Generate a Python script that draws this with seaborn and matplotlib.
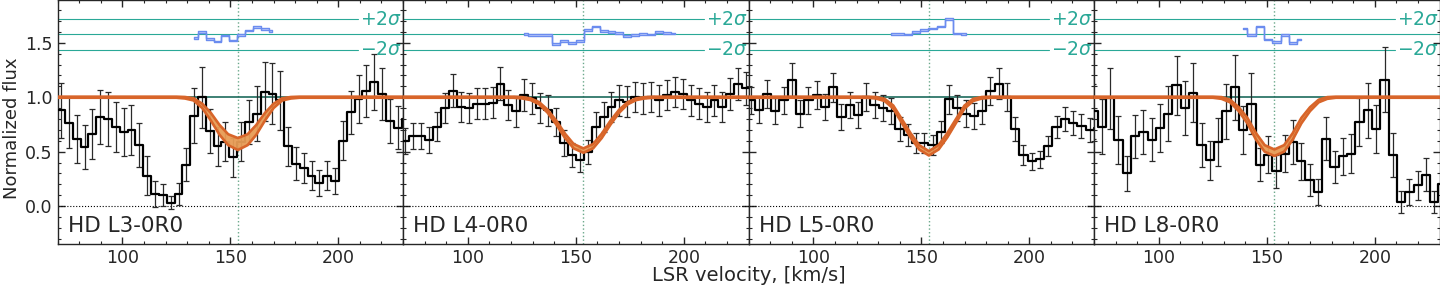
import matplotlib
matplotlib.use('Agg')
import matplotlib.pyplot as plt
import matplotlib.transforms as mtransforms
from matplotlib.ticker import MultipleLocator
import seaborn as sns
import pandas as pd

# panel titles
names = ['HD L3-0R0', 'HD L4-0R0', 'HD L5-0R0', 'HD L8-0R0']

# ---- HD L3-0R0
v_l3 = [68.0, 71.6, 75.2, 78.9, 82.5, 86.1, 89.7, 93.4, 97.0, 100.6, 104.2, 107.9, 111.5, 115.1, 118.7,
        122.4, 126.0, 129.6, 133.2, 136.9, 140.5, 144.1, 147.7, 151.4, 155.0, 158.6, 162.2, 165.9, 169.5,
        173.1, 176.7, 180.4, 184.0, 187.6, 191.2, 194.9, 198.5, 202.1, 205.7, 209.4, 213.0, 216.6, 220.2,
        223.9, 227.5, 231.1]
f_l3 = [0.88, 0.88, 0.765, 0.62, 0.545, 0.66, 0.82, 0.80, 0.73, 0.68, 0.70, 0.56, 0.28, 0.11, 0.10,
        0.03, 0.11, 0.38, 0.83, 1.00, 0.69, 0.55, 0.59, 0.45, 0.59, 0.77, 0.85, 1.05, 1.03,
        0.97, 0.55, 0.39, 0.35, 0.28, 0.21, 0.28, 0.23, 0.60, 0.86, 0.98, 1.06, 1.14, 1.03,
        0.78, 0.72, 0.80]
e_l3 = [0.25, 0.25, 0.235, 0.22, 0.20, 0.23, 0.25, 0.25, 0.23, 0.22, 0.23, 0.20, 0.18, 0.12, 0.10,
        0.06, 0.10, 0.15, 0.25, 0.28, 0.20, 0.18, 0.18, 0.18, 0.18, 0.20, 0.25, 0.27, 0.28,
        0.27, 0.18, 0.15, 0.14, 0.13, 0.12, 0.13, 0.12, 0.18, 0.20, 0.22, 0.24, 0.26, 0.24,
        0.20, 0.20, 0.20]
rv_l3 = [133.2, 136.9, 140.5, 144.1, 147.7, 151.4, 155.0, 158.6, 162.2, 165.9, 169.5]
r_l3 = [1.546, 1.597, 1.537, 1.512, 1.567, 1.52, 1.574, 1.613, 1.643, 1.628, 1.607]

# ---- HD L4-0R0
v_l4 = [67.4, 71.1, 74.8, 78.4, 82.1, 85.8, 89.5, 93.1, 96.8, 100.5, 104.1, 107.8, 111.5, 115.1, 118.8,
        122.5, 126.2, 129.8, 133.5, 137.2, 140.8, 144.5, 148.2, 151.8, 155.5, 159.2, 162.9, 166.5, 170.2,
        173.9, 177.5, 181.2, 184.9, 188.5, 192.2, 195.9, 199.6, 203.2, 206.9, 210.6, 214.2, 217.9, 221.6,
        225.2, 228.9, 232.6]
f_l4 = [0.60, 0.60, 0.64, 0.64, 0.61, 0.73, 0.90, 1.06, 0.91, 0.90, 0.94, 0.94, 0.95, 1.125, 0.93,
        0.87, 1.02, 0.99, 0.90, 0.88, 0.77, 0.58, 0.47, 0.42, 0.50, 0.73, 0.82, 0.91, 0.97,
        0.96, 1.00, 0.99, 1.00, 0.97, 1.02, 1.05, 1.03, 0.97, 0.94, 0.91, 0.97, 0.91, 1.03,
        1.12, 1.08, 1.08]
e_l4 = [0.12, 0.12, 0.12, 0.12, 0.12, 0.13, 0.14, 0.15, 0.14, 0.14, 0.14, 0.14, 0.14, 0.15, 0.14,
        0.14, 0.15, 0.14, 0.14, 0.14, 0.13, 0.12, 0.11, 0.11, 0.11, 0.13, 0.14, 0.14, 0.14,
        0.14, 0.14, 0.14, 0.14, 0.14, 0.14, 0.14, 0.14, 0.14, 0.14, 0.14, 0.14, 0.14, 0.15,
        0.15, 0.15, 0.15]
rv_l4 = [126.2, 129.8, 133.5, 137.2, 140.8, 144.5, 148.2, 151.8, 155.5, 159.2, 162.9, 166.5, 170.2,
         173.9, 177.5, 181.2, 184.9, 188.5, 192.2, 195.9]
r_l4 = [1.582, 1.573, 1.573, 1.573, 1.49, 1.515, 1.50, 1.515, 1.62, 1.65, 1.61, 1.60, 1.59,
        1.56, 1.573, 1.58, 1.575, 1.60, 1.59, 1.585]

# ---- HD L5-0R0
v_l5 = [67.1, 70.9, 74.7, 78.6, 82.4, 86.2, 90.1, 93.9, 97.7, 101.5, 105.4, 109.2, 113.0, 116.9, 120.7,
        124.5, 128.4, 132.2, 136.0, 139.9, 143.7, 147.5, 151.3, 155.2, 159.0, 162.8, 166.7, 170.5, 174.3,
        178.2, 182.0, 185.8, 189.7, 193.5, 197.3, 201.1, 205.0, 208.8, 212.6, 216.5, 220.3, 224.1, 228.0,
        231.8]
f_l5 = [0.97, 0.97, 0.88, 1.03, 0.87, 0.97, 1.16, 0.85, 0.97, 1.02, 0.91, 1.09, 0.82, 0.93, 0.84,
        1.00, 0.93, 0.90, 0.87, 0.71, 0.65, 0.58, 0.58, 0.56, 0.68, 0.98, 0.90, 0.85, 0.83,
        0.87, 1.06, 1.125, 1.00, 0.71, 0.47, 0.41, 0.43, 0.55, 0.73, 0.80, 0.76, 0.74, 0.70,
        0.72]
e_l5 = [0.12, 0.12, 0.12, 0.13, 0.12, 0.12, 0.15, 0.12, 0.12, 0.13, 0.12, 0.13, 0.12, 0.12, 0.12,
        0.13, 0.12, 0.12, 0.12, 0.11, 0.10, 0.09, 0.09, 0.09, 0.10, 0.13, 0.12, 0.12, 0.12,
        0.12, 0.13, 0.14, 0.13, 0.11, 0.09, 0.08, 0.08, 0.09, 0.10, 0.11, 0.11, 0.11, 0.11,
        0.11]
rv_l5 = [136.0, 139.9, 143.7, 147.5, 151.3, 155.2, 159.0, 162.8, 166.7, 170.5]
r_l5 = [1.58, 1.58, 1.575, 1.60, 1.62, 1.63, 1.65, 1.72, 1.585, 1.58]

# ---- HD L8-0R0
v_l8 = [69.7, 73.6, 77.4, 81.3, 85.1, 89.0, 92.8, 96.7, 100.5, 104.4, 108.2, 112.1, 115.9, 119.8, 123.6,
        127.5, 131.3, 135.2, 139.0, 142.9, 146.7, 150.6, 154.4, 158.3, 162.1, 166.0, 169.8, 173.7, 177.5,
        181.4, 185.2, 189.1, 192.9, 196.8, 200.6, 204.5, 208.3, 212.2, 216.0, 219.9, 223.7, 227.6, 231.4]
f_l8 = [0.87, 0.73, 0.99, 0.61, 0.30, 0.64, 0.68, 0.61, 0.72, 0.85, 1.11, 0.90, 1.04, 0.56, 0.42,
        0.59, 0.87, 1.09, 0.70, 0.94, 0.38, 0.47, 0.32, 0.48, 0.59, 0.41, 0.24, 0.13, 0.62,
        0.36, 0.46, 0.48, 0.77, 0.88, 0.71, 1.16, 0.47, 0.04, 0.13, 0.19, 0.29, 0.04, 0.20]
e_l8 = [0.25, 0.25, 0.28, 0.22, 0.16, 0.20, 0.20, 0.20, 0.22, 0.25, 0.27, 0.25, 0.27, 0.20, 0.18,
        0.22, 0.25, 0.30, 0.22, 0.28, 0.15, 0.17, 0.15, 0.17, 0.20, 0.17, 0.15, 0.12, 0.20,
        0.15, 0.17, 0.18, 0.22, 0.25, 0.22, 0.30, 0.20, 0.10, 0.12, 0.13, 0.15, 0.10, 0.15]
rv_l8 = [139.0, 142.9, 146.7, 150.6, 154.4, 158.3, 162.1, 166.0]
r_l8 = [1.63, 1.57, 1.65, 1.53, 1.51, 1.57, 1.50, 1.53]

# ---- line fit
fit_v = [70, 121, 125, 129, 133, 137, 141, 145, 149, 153.5, 158, 162, 166, 170, 174, 178, 182, 186, 230]
fit_l3 = [1.0, 1.0, 1.0, 0.995, 0.98, 0.92, 0.82, 0.70, 0.61, 0.57, 0.61, 0.70, 0.82, 0.92, 0.98, 0.995, 1.0, 1.0, 1.0]
fit_l4 = [1.0, 1.0, 0.995, 0.982, 0.945, 0.87, 0.765, 0.645, 0.55, 0.51, 0.55, 0.645, 0.765, 0.87, 0.945, 0.982, 0.995, 1.0, 1.0]
fit_l5 = [1.0, 1.0, 1.0, 0.995, 0.975, 0.91, 0.78, 0.65, 0.54, 0.485, 0.54, 0.65, 0.78, 0.91, 0.975, 0.995, 1.0, 1.0, 1.0]
fit_l8 = [1.0, 1.0, 1.0, 0.993, 0.965, 0.89, 0.785, 0.64, 0.53, 0.49, 0.53, 0.64, 0.785, 0.89, 0.965, 0.993, 1.0, 1.0, 1.0]
# half width of the fit uncertainty band
band_l3 = [0.005, 0.005, 0.005, 0.007, 0.01, 0.02, 0.035, 0.045, 0.05, 0.055, 0.05, 0.045, 0.035, 0.02, 0.01, 0.007, 0.005, 0.005, 0.005]
band_l4 = [0.005, 0.005, 0.006, 0.008, 0.01, 0.014, 0.018, 0.02, 0.02, 0.02, 0.02, 0.02, 0.018, 0.014, 0.01, 0.008, 0.006, 0.005, 0.005]
band_l5 = [0.005, 0.005, 0.005, 0.007, 0.01, 0.014, 0.018, 0.02, 0.02, 0.02, 0.02, 0.02, 0.018, 0.014, 0.01, 0.007, 0.005, 0.005, 0.005]
band_l8 = [0.005, 0.005, 0.005, 0.008, 0.012, 0.018, 0.025, 0.03, 0.03, 0.03, 0.03, 0.03, 0.025, 0.018, 0.012, 0.008, 0.005, 0.005, 0.005]

v_line = 153.5
res_mid = 1.577
res_2sig = 0.14

panels = [
    (v_l3, f_l3, e_l3, rv_l3, r_l3, fit_l3, band_l3),
    (v_l4, f_l4, e_l4, rv_l4, r_l4, fit_l4, band_l4),
    (v_l5, f_l5, e_l5, rv_l5, r_l5, fit_l5, band_l5),
    (v_l8, f_l8, e_l8, rv_l8, r_l8, fit_l8, band_l8),
]

sns.set_style('ticks')
plt.rcParams['font.family'] = ['DejaVu Sans']
plt.rcParams['mathtext.fontset'] = 'dejavusans'

teal = '#2aa897'
orange = '#d8652a'


def draw_panel(ax, name, v, f, e, rv, r, fit, band):
    df = pd.DataFrame({'v': v, 'flux': f, 'err': e})
    # continuum and zero level
    ax.axhline(1.0, color='#1d6b5c', lw=1.2, zorder=2)
    ax.axhline(0.0, color='k', lw=0.8, ls=':', zorder=1)
    ax.axvline(v_line, color='#6aa88a', lw=1.0, ls=':', zorder=1)

    ax.errorbar(df['v'], df['flux'], yerr=df['err'], fmt='none', ecolor='#2a2a2a',
                elinewidth=0.9, capsize=2, capthick=0.9, zorder=3)
    sns.lineplot(data=df, x='v', y='flux', drawstyle='steps-mid', color='k', lw=1.6,
                 ax=ax, zorder=4, sort=False, estimator=None)

    fdf = pd.DataFrame({'v': fit_v, 'mid': fit, 'band': band})
    lo = fdf['mid'] - fdf['band']
    hi = fdf['mid'] + fdf['band']
    ax.fill_between(fdf['v'], lo, hi, color='#e79c55', alpha=0.95, lw=0, zorder=5)
    sns.lineplot(x=fdf['v'], y=lo, color=orange, lw=1.9, ax=ax, zorder=6, estimator=None)
    sns.lineplot(x=fdf['v'], y=hi, color=orange, lw=1.9, ax=ax, zorder=6, estimator=None)

    # residuals
    ax.axhline(res_mid, color=teal, lw=0.8, zorder=1)
    ax.axhline(res_mid + res_2sig, xmax=0.87, color=teal, lw=0.8, zorder=1)
    ax.axhline(res_mid - res_2sig, xmax=0.87, color=teal, lw=0.8, zorder=1)
    trans = mtransforms.blended_transform_factory(ax.transAxes, ax.transData)
    ax.text(0.997, res_mid + res_2sig, r'$+2\sigma$', transform=trans, ha='right', va='center',
            color=teal, fontsize=13.5)
    ax.text(0.997, res_mid - res_2sig, r'$-2\sigma$', transform=trans, ha='right', va='center',
            color=teal, fontsize=13.5)
    rdf = pd.DataFrame({'v': rv, 'r': r})
    ax.fill_between(rdf['v'], rdf['r'] - 0.008, rdf['r'] + 0.008, step='mid',
                    facecolor='#c9d4fb', edgecolor='#6b8cef', lw=1.0, zorder=4)

    ax.text(0.03, 0.035, name, transform=ax.transAxes, fontsize=15.5, ha='left', va='bottom')

    ax.set_xlim(70, 230)
    ax.set_ylim(-0.35, 1.89)
    ax.xaxis.set_major_locator(MultipleLocator(50))
    ax.xaxis.set_minor_locator(MultipleLocator(10))
    ax.yaxis.set_major_locator(MultipleLocator(0.5))
    ax.yaxis.set_minor_locator(MultipleLocator(0.1))
    ax.tick_params(which='both', direction='in', top=True, right=True, labelsize=12.5)
    ax.tick_params(which='major', length=5, width=1)
    ax.tick_params(which='minor', length=2.5, width=0.8)
    ax.set_xlabel('')
    ax.set_ylabel('')
    for s in ax.spines.values():
        s.set_linewidth(1.0)


def draw_figure():
    fig, axes = plt.subplots(1, 4, figsize=(14.4, 2.88), dpi=100, sharey=True)
    fig.subplots_adjust(left=0.04, right=0.9997, bottom=0.152, top=0.999, wspace=0)
    for ax, name, p in zip(axes, names, panels):
        draw_panel(ax, name, *p)
    fig.text(0.52, 0.042, 'LSR velocity, [km/s]', ha='center', va='center', fontsize=14)
    fig.text(0.008, 0.555, 'Normalized flux', ha='center', va='center', rotation=90, fontsize=13)
    return fig


fig = draw_figure()
fig.savefig('out.png', dpi=100)
plt.close(fig)
